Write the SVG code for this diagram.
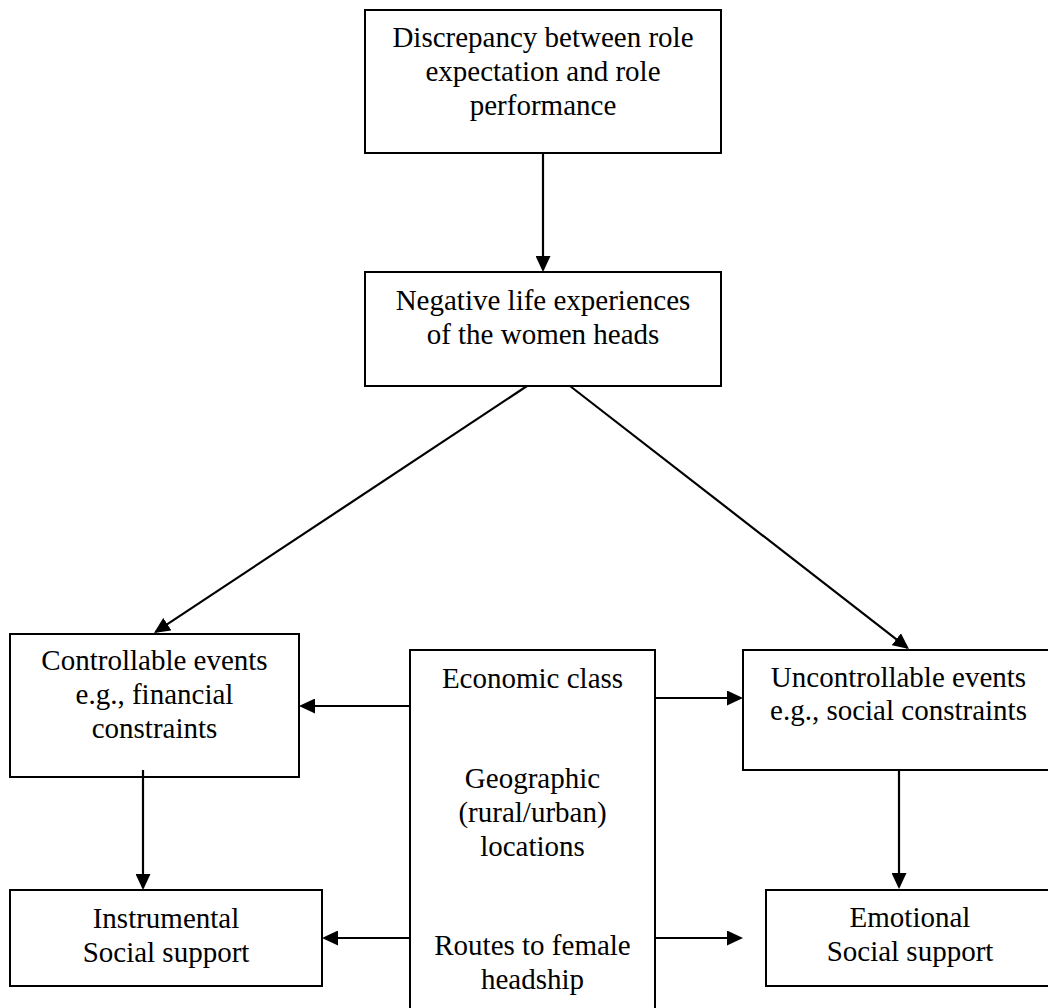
<svg xmlns="http://www.w3.org/2000/svg" width="1048" height="1008" viewBox="0 0 1048 1008">
<defs>
<marker id="ah" viewBox="0 0 16 15" refX="14" refY="7.5" markerWidth="16" markerHeight="15" markerUnits="userSpaceOnUse" orient="auto">
<path d="M0,0 L16,7.5 L0,15 Z" fill="#000"/>
</marker>
<style>
.box{fill:#fff;stroke:#000;stroke-width:2}
.t{font-family:"Liberation Serif","Times New Roman",serif;font-size:29px;fill:#000;text-anchor:middle}
.c{stroke:#000;stroke-width:2.2;fill:none;marker-end:url(#ah)}
</style>
</defs>
<rect width="1048" height="1008" fill="#fff"/>
<g id="n-discrepancy">
<rect class="box" x="365" y="10" width="356" height="143"/>
<text class="t" x="543" y="47">Discrepancy between role</text>
<text class="t" x="543" y="81">expectation and role</text>
<text class="t" x="543" y="115">performance</text>
</g>
<g id="n-negative">
<rect class="box" x="365" y="272" width="356" height="114"/>
<text class="t" x="543" y="310">Negative life experiences</text>
<text class="t" x="543" y="344">of the women heads</text>
</g>
<g id="n-controllable">
<rect class="box" x="10" y="634" width="289" height="143"/>
<text class="t" x="154.5" y="670">Controllable events</text>
<text class="t" x="154.5" y="704">e.g., financial</text>
<text class="t" x="154.5" y="738">constraints</text>
</g>
<g id="n-factors">
<rect class="box" x="410" y="650" width="245" height="380"/>
<text class="t" x="532.5" y="688">Economic class</text>
<text class="t" x="532.5" y="788">Geographic</text>
<text class="t" x="532.5" y="822">(rural/urban)</text>
<text class="t" x="532.5" y="856">locations</text>
<text class="t" x="532.5" y="955">Routes to female</text>
<text class="t" x="532.5" y="989">headship</text>
</g>
<g id="n-uncontrollable">
<rect class="box" x="743" y="650" width="320" height="120"/>
<text class="t" x="898.5" y="687">Uncontrollable events</text>
<text class="t" x="898.5" y="720">e.g., social constraints</text>
</g>
<g id="n-instrumental">
<rect class="box" x="10" y="890" width="312" height="96"/>
<text class="t" x="166" y="928">Instrumental</text>
<text class="t" x="166" y="962">Social support</text>
</g>
<g id="n-emotional">
<rect class="box" x="766" y="890" width="300" height="96"/>
<text class="t" x="910" y="927">Emotional</text>
<text class="t" x="910" y="961">Social support</text>
</g>
<g id="connectors">
<line class="c" x1="543" y1="153" x2="543" y2="270"/>
<line class="c" x1="527" y1="386" x2="155.7" y2="631.9"/>
<line class="c" x1="570" y1="386" x2="907.4" y2="647.8"/>
<line class="c" x1="143" y1="770" x2="143" y2="888"/>
<line class="c" x1="899" y1="770" x2="899" y2="887"/>
<line class="c" x1="410" y1="706" x2="301" y2="706"/>
<line class="c" x1="410" y1="938" x2="324" y2="938"/>
<line class="c" x1="655" y1="698" x2="741" y2="698"/>
<line class="c" x1="655" y1="938" x2="741" y2="938"/>
</g>
</svg>
